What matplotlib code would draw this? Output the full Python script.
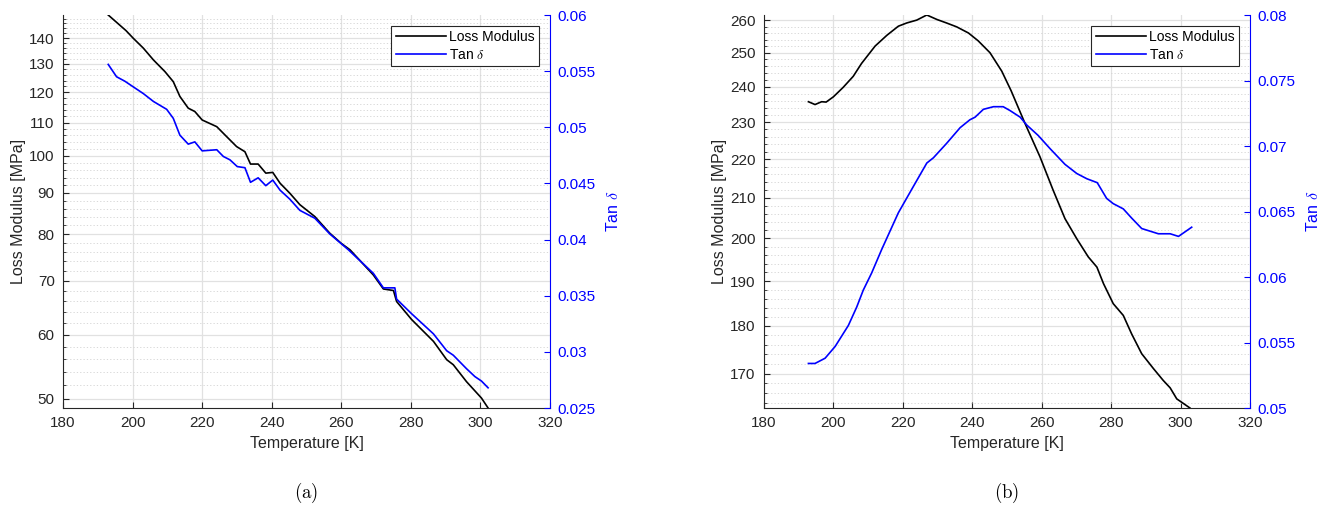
import numpy as np
import matplotlib.pyplot as plt
from matplotlib.ticker import FixedLocator, FormatStrFormatter, NullFormatter

plt.rcParams['font.family'] = ['Liberation Sans', 'DejaVu Sans']
plt.rcParams['mathtext.fontset'] = 'cm'

# --- data ---
# (a)
T_loss_a = [193.0, 198.1, 200.2, 203.1, 206.0, 209.3, 211.7, 213.6, 216.0, 217.9,
            220.0, 224.2, 227.0, 229.9, 232.3, 233.9, 236.1, 238.3, 240.3, 242.4,
            245.2, 248.1, 252.4, 256.7, 260.0, 262.5, 269.2, 272.1, 275.0, 275.9,
            280.2, 286.5, 290.3, 292.2, 296.0, 300.3, 302.2]
loss_a = [149.5, 143.0, 139.9, 136.0, 131.5, 127.2, 123.6, 118.5, 114.6, 113.5,
          110.8, 108.7, 105.7, 102.7, 101.2, 97.7, 97.7, 95.2, 95.4, 92.5,
          89.9, 87.0, 84.1, 80.2, 77.9, 76.5, 71.2, 68.4, 68.1, 66.0,
          62.7, 58.9, 55.9, 55.1, 52.5, 50.1, 48.7]
T_tan_a = [193.0, 195.4, 197.8, 200.2, 203.1, 206.0, 209.8, 211.7, 213.6, 216.0,
           217.9, 220.0, 224.2, 226.1, 228.0, 230.1, 232.3, 233.9, 236.1, 238.3,
           240.3, 242.4, 245.2, 248.1, 252.4, 256.7, 262.0, 269.2, 272.1, 275.4,
           275.9, 280.2, 286.5, 290.3, 292.2, 296.0, 298.4, 300.3, 302.2]
tan_a = [0.0556, 0.0545, 0.0541, 0.0536, 0.0530, 0.0523, 0.0516, 0.0508, 0.0493, 0.0485,
         0.0487, 0.0479, 0.0480, 0.0474, 0.0471, 0.0465, 0.0464, 0.0451, 0.0455, 0.0448,
         0.0453, 0.0444, 0.0436, 0.0426, 0.0419, 0.0405, 0.0391, 0.0370, 0.0357, 0.0357,
         0.0347, 0.0334, 0.0316, 0.0301, 0.0297, 0.0285, 0.0278, 0.0274, 0.0268]

# (b)
T_loss_b = [192.8, 194.7, 196.6, 197.9, 200.0, 202.8, 205.7, 208.1, 212.0, 215.4,
            218.7, 221.1, 224.0, 226.9, 229.8, 232.6, 235.5, 238.9, 241.7, 245.1,
            248.5, 251.2, 255.2, 259.5, 263.3, 266.7, 270.1, 273.4, 275.9, 277.8,
            280.6, 283.5, 285.9, 288.8, 292.2, 295.0, 297.0, 298.9, 302.7]
loss_b = [235.7, 234.9, 235.7, 235.6, 237.1, 239.8, 243.0, 246.8, 252.0, 255.3,
          258.1, 259.1, 260.0, 261.6, 260.2, 259.1, 257.9, 256.0, 253.6, 250.0,
          244.5, 238.8, 229.6, 220.6, 211.9, 204.8, 199.9, 195.6, 193.2, 189.4,
          184.9, 182.3, 178.3, 174.1, 171.0, 168.6, 167.1, 164.9, 163.1]
T_tan_b = [192.8, 194.7, 197.6, 200.5, 204.3, 206.7, 208.6, 211.0, 213.9, 218.7,
           223.0, 226.9, 228.8, 232.6, 236.5, 239.3, 240.8, 243.2, 246.1, 248.9,
           250.9, 253.8, 255.7, 259.0, 262.4, 266.7, 270.1, 273.0, 276.0, 278.7,
           280.6, 283.5, 285.9, 288.8, 291.2, 293.6, 297.0, 299.4, 303.2]
tan_b = [0.0534, 0.0534, 0.0538, 0.0547, 0.0563, 0.0577, 0.0590, 0.0603, 0.0621, 0.0649,
         0.0669, 0.0687, 0.0691, 0.0702, 0.0714, 0.0720, 0.0722, 0.0728, 0.0730, 0.0730,
         0.0727, 0.0722, 0.0716, 0.0708, 0.0698, 0.0686, 0.0679, 0.0675, 0.0672, 0.0660,
         0.0656, 0.0652, 0.0645, 0.0637, 0.0635, 0.0633, 0.0633, 0.0631, 0.0638]

x_ticks = [180, 200, 220, 240, 260, 280, 300, 320]
loss_ticks_a = [50, 60, 70, 80, 90, 100, 110, 120, 130, 140]
loss_ticks_b = [170, 180, 190, 200, 210, 220, 230, 240, 250, 260]
tan_ticks_a = [0.025, 0.03, 0.035, 0.04, 0.045, 0.05, 0.055, 0.06]
tan_ticks_b = [0.05, 0.055, 0.06, 0.065, 0.07, 0.075, 0.08]

AX_COL = '#262626'
BLUE = '#0000ff'
FS_TICK = 11
FS_LAB = 11.5


def panel(rect, T_loss, loss, T_tan, tan, loss_ticks, tan_ticks, caption):
    ax = fig.add_axes(rect)
    ax.plot(T_loss, loss, color='black', lw=1.2, label='Loss Modulus')
    ax.set_yscale('log')
    ax.set_xlim(180, 320)
    ax.set_ylim(min(loss), max(loss))
    ax.xaxis.set_major_locator(FixedLocator(x_ticks))
    ax.yaxis.set_major_locator(FixedLocator(loss_ticks))
    ax.yaxis.set_major_formatter(FormatStrFormatter('%d'))
    lo = int(np.floor(min(loss)))
    hi = int(np.ceil(max(loss)))
    minors = [v for v in range(lo, hi + 1) if v % 2 == 0 and v % 10 != 0]
    ax.yaxis.set_minor_locator(FixedLocator(minors))
    ax.yaxis.set_minor_formatter(NullFormatter())
    ax.grid(True, which='major', color='#e1e1e1', lw=0.9)
    ax.grid(True, which='minor', axis='y', color='#d2d2d2', lw=0.6, ls=(0, (1.5, 2.5)))
    ax.set_axisbelow(True)
    for s in ('top', 'right'):
        ax.spines[s].set_visible(False)
    for s in ('left', 'bottom'):
        ax.spines[s].set_color(AX_COL)
    ax.tick_params(which='both', direction='in', colors=AX_COL, labelsize=FS_TICK, pad=6)
    ax.tick_params(which='major', length=4)
    ax.tick_params(which='minor', length=2)
    ax.set_xlabel('Temperature [K]', fontsize=FS_LAB, color=AX_COL, labelpad=4)
    ax.set_ylabel('Loss Modulus [MPa]', fontsize=FS_LAB, color=AX_COL, labelpad=2)

    ax2 = ax.twinx()
    ax2.plot(T_tan, tan, color=BLUE, lw=1.2, label=r'Tan $\delta$')
    ax2.set_ylim(tan_ticks[0], tan_ticks[-1])
    ax2.yaxis.set_major_locator(FixedLocator(tan_ticks))
    ax2.yaxis.set_major_formatter(FormatStrFormatter('%g'))
    for s in ('top', 'left', 'bottom'):
        ax2.spines[s].set_visible(False)
    ax2.spines['right'].set_color(BLUE)
    ax2.tick_params(direction='in', colors=BLUE, labelsize=FS_TICK, length=4, pad=5)
    ax2.set_ylabel(r'Tan $\delta$', fontsize=FS_LAB, color=BLUE, labelpad=7)

    h1, l1 = ax.get_legend_handles_labels()
    h2, l2 = ax2.get_legend_handles_labels()
    leg = ax2.legend(h1 + h2, l1 + l2, loc='upper right', fontsize=10,
                     fancybox=False, framealpha=1, edgecolor=AX_COL,
                     borderaxespad=0.8, handlelength=3.6, handletextpad=0.25,
                     borderpad=0.3, labelspacing=0.25)
    leg.get_frame().set_linewidth(0.8)

    ax.text(0.5, -0.216, caption, transform=ax.transAxes, ha='center', va='center',
            fontsize=13.5, color='black')
    return ax


fig = plt.figure(figsize=(13.22, 5.09), dpi=100)
panel([63 / 1322, 1 - 408 / 509, 487 / 1322, 393 / 509],
      T_loss_a, loss_a, T_tan_a, tan_a, loss_ticks_a, tan_ticks_a, r'$\mathrm{(a)}$')
panel([764 / 1322, 1 - 408 / 509, 486 / 1322, 393 / 509],
      T_loss_b, loss_b, T_tan_b, tan_b, loss_ticks_b, tan_ticks_b, r'$\mathrm{(b)}$')

fig.savefig('out.png', dpi=100, facecolor='white')
